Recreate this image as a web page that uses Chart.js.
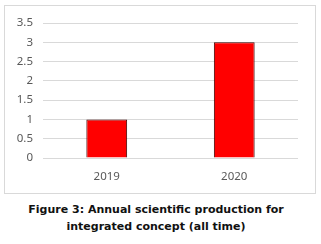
<!DOCTYPE html>
<html>
<head>
<meta charset="utf-8">
<title>Annual scientific production</title>
<script src="https://cdn.jsdelivr.net/npm/chart.js"></script>
<style>
  html, body { margin: 0; padding: 0; background: #fff; }
  body { width: 321px; height: 244px; position: relative; overflow: hidden; }
  #box {
    position: absolute; left: 4px; top: 5px;
    width: 310px; height: 187px;
    border: 1px solid #d9d9d9;
  }
  #box canvas { position: absolute; left: 0; top: 0; }
  #caption {
    position: absolute; left: 0; top: 201px; width: 312px;
    text-align: center;
    font-family: "DejaVu Sans", Verdana, sans-serif;
    font-weight: bold; font-size: 11px; line-height: 17px;
    color: #111;
  }
</style>
</head>
<body>
<div id="box"><canvas id="chartCanvas" width="310" height="187"></canvas></div>
<div id="caption">Figure 3: Annual scientific production for<br>integrated concept (all time)</div>
<script>
  // chart data
  const years = ['2019', '2020'];
  const production = [1, 3];
  const yTicks = [0, 0.5, 1, 1.5, 2, 2.5, 3, 3.5];

  const tickFont = { family: 'Noto Sans', size: 11.5 };

  const ctx = document.getElementById('chartCanvas').getContext('2d');
  new Chart(ctx, {
    type: 'bar',
    data: {
      labels: years,
      datasets: [{
        label: 'Production',
        data: production,
        backgroundColor: '#ff0000',
        borderColor: '#3d0000',
        borderWidth: 1,
        categoryPercentage: 1,
        barPercentage: 0.32
      }]
    },
    options: {
      responsive: false,
      animation: false,
      layout: { padding: { left: 0, right: 17, top: 17, bottom: 0 } },
      plugins: { legend: { display: false }, tooltip: { enabled: false } },
      scales: {
        x: {
          grid: { display: false },
          border: { display: false },
          ticks: { color: '#595959', padding: 4, font: tickFont },
          afterFit: (scale) => { scale.height = 35; }
        },
        y: {
          min: 0,
          max: yTicks[yTicks.length - 1],
          afterBuildTicks: (scale) => { scale.ticks = yTicks.map(v => ({ value: v })); },
          grid: { color: '#d9d9d9', drawTicks: false },
          border: { display: false },
          ticks: {
            color: '#595959', padding: 10, font: tickFont,
            callback: (value) => String(value)
          },
          afterFit: (scale) => { scale.width = 38; }
        }
      }
    }
  });
</script>
</body>
</html>
